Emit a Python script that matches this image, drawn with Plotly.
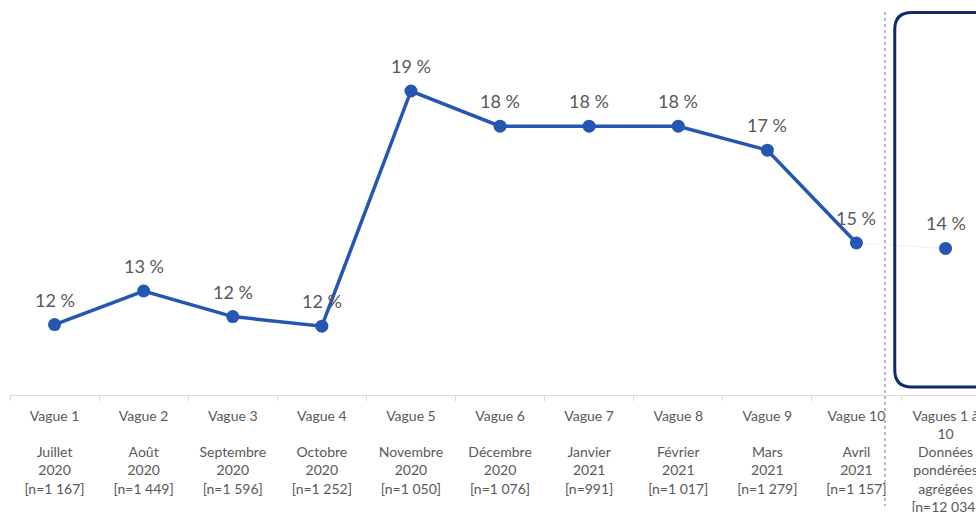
import plotly.graph_objects as go

categories = [
    "Vague 1<br> <br>Juillet<br>2020<br>[n=1 167]",
    "Vague 2<br> <br>Août<br>2020<br>[n=1 449]",
    "Vague 3<br> <br>Septembre<br>2020<br>[n=1 596]",
    "Vague 4<br> <br>Octobre<br>2020<br>[n=1 252]",
    "Vague 5<br> <br>Novembre<br>2020<br>[n=1 050]",
    "Vague 6<br> <br>Décembre<br>2020<br>[n=1 076]",
    "Vague 7<br> <br>Janvier<br>2021<br>[n=991]",
    "Vague 8<br> <br>Février<br>2021<br>[n=1 017]",
    "Vague 9<br> <br>Mars<br>2021<br>[n=1 279]",
    "Vague 10<br> <br>Avril<br>2021<br>[n=1 157]",
    "Vagues 1 à<br>10<br>Données<br>pondérées<br>agrégées<br>[n=12 034]",
]
wave_values = [12.0, 13.05, 12.25, 11.95, 19.3, 18.2, 18.2, 18.2, 17.45, 14.55]
aggregate_value = 14.38

LINE_COLOR = "#2556B2"
TEXT_COLOR = "#595959"
FONT = "Lato"

def pct(v):
    return f"{round(v):d} %"

fig = go.Figure()
# faint connector toward aggregate point
fig.add_trace(go.Scatter(
    x=[categories[9], categories[10]], y=[wave_values[9], aggregate_value],
    mode="lines", line=dict(color="rgba(200,208,228,0.35)", width=1),
    hoverinfo="skip", showlegend=False))
fig.add_trace(go.Scatter(
    x=categories[:10], y=wave_values, mode="lines+markers",
    line=dict(color=LINE_COLOR, width=3.5),
    marker=dict(color=LINE_COLOR, size=13),
    showlegend=False, cliponaxis=False))
fig.add_trace(go.Scatter(
    x=[categories[10]], y=[aggregate_value], mode="markers",
    marker=dict(color=LINE_COLOR, size=13),
    showlegend=False, cliponaxis=False))

all_values = wave_values + [aggregate_value]
for cat, v in zip(categories, all_values):
    fig.add_annotation(x=cat, y=v, text=pct(v), showarrow=False,
                       yshift=25, yanchor="middle", xanchor="center",
                       font=dict(family=FONT, size=18, color=TEXT_COLOR))

W, H = 976, 512
ML, MT = 10, 0
plot_bottom = 395
plot_h = plot_bottom - MT
MB = H - plot_bottom
plot_w = W - ML
cat_px = 89.1
xr = [-0.5, -0.5 + plot_w / cat_px]

def xpaper(idx):
    return (idx - xr[0]) / (xr[1] - xr[0])

def ypaper(py):
    return 1 - (py - MT) / plot_h

# dotted separator
sep_x = xpaper(9.32)
fig.add_shape(type="line", xref="paper", yref="paper",
              x0=sep_x, x1=sep_x, y0=ypaper(12), y1=ypaper(506),
              line=dict(color="#a6a6a6", width=1.5, dash="dot"))

# rounded rectangle around the aggregate point
left, right = xpaper(9.43), xpaper(10.62)
top, bottom = ypaper(12.5), ypaper(387)
rx, ry = 17 / plot_w, 17 / plot_h
path = (f"M {left},{bottom+ry} L {left},{top-ry} Q {left},{top} {left+rx},{top} "
        f"L {right-rx},{top} Q {right},{top} {right},{top-ry} "
        f"L {right},{bottom+ry} Q {right},{bottom} {right-rx},{bottom} "
        f"L {left+rx},{bottom} Q {left},{bottom} {left},{bottom+ry} Z")
fig.add_shape(type="path", xref="paper", yref="paper", path=path,
              line=dict(color="#0E2A6B", width=3))

y_top = 19.3 + (91 - MT) / 32
y_bot = 19.3 - (plot_bottom - 91) / 32

fig.update_layout(
    width=W, height=H,
    margin=dict(l=ML, r=0, t=MT, b=MB, autoexpand=False),
    paper_bgcolor="white", plot_bgcolor="white",
    font=dict(family=FONT, color=TEXT_COLOR),
    hovermode=False,
    xaxis=dict(
        type="category", categoryorder="array", categoryarray=categories,
        range=xr, showgrid=False, zeroline=False,
        showline=True, linecolor="#d9d9d9", linewidth=1,
        ticks="outside", tickson="boundaries", ticklen=5, tickcolor="#d9d9d9",
        tickfont=dict(family=FONT, size=14, color=TEXT_COLOR), tickangle=0,
        ticklabelstandoff=8, automargin=False,
    ),
    yaxis=dict(range=[y_bot, y_top], visible=False),
)

fig.write_html(
    "out.html",
    config={"displayModeBar": False},
    post_script="document.body.style.margin='0';document.body.style.overflow='hidden';",
)
